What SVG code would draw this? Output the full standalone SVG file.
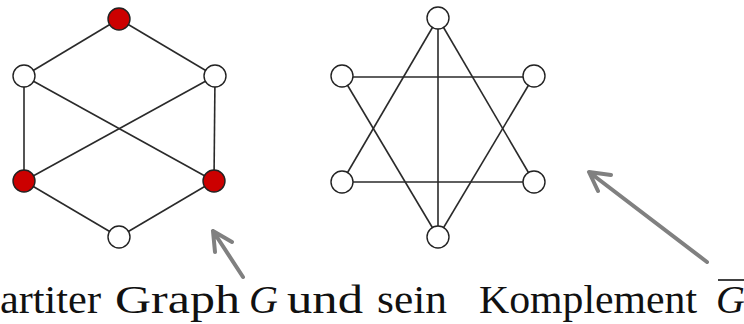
<svg xmlns="http://www.w3.org/2000/svg" width="744" height="324" viewBox="0 0 744 324">
<style>
.e{stroke:#2a2a2a;stroke-width:1.6;fill:none}
.n{stroke:#222;stroke-width:1.4;fill:#fff}
.r{fill:#cc0000}
.a{stroke:#808080;stroke-width:4;fill:none;stroke-linecap:round;stroke-linejoin:round}
.t{font-family:"Liberation Serif","DejaVu Serif",serif;font-size:40px;fill:#111}
.i{font-style:italic}
</style>
<rect width="744" height="324" fill="#fff"/>
<g id="connectors">
<line class="e" x1="119" y1="19" x2="24" y2="76"/>
<line class="e" x1="119" y1="19" x2="215" y2="76"/>
<line class="e" x1="24" y1="76" x2="24" y2="181"/>
<line class="e" x1="215" y1="76" x2="214" y2="181"/>
<line class="e" x1="24" y1="76" x2="214" y2="181"/>
<line class="e" x1="215" y1="76" x2="24" y2="181"/>
<line class="e" x1="24" y1="181" x2="119" y2="237"/>
<line class="e" x1="214" y1="181" x2="119" y2="237"/>
<line class="e" x1="438" y1="18" x2="438" y2="237"/>
<line class="e" x1="438" y1="18" x2="342" y2="182"/>
<line class="e" x1="438" y1="18" x2="534" y2="182"/>
<line class="e" x1="342" y1="77" x2="534" y2="77"/>
<line class="e" x1="342" y1="182" x2="534" y2="182"/>
<line class="e" x1="342" y1="76" x2="438" y2="237"/>
<line class="e" x1="534" y1="76" x2="438" y2="237"/>
<path class="a" d="M243 277 L213 231 M215 252 L213 231 L232 242"/>
<path class="a" d="M707 262 L589 172 M611 175 L589 172 L598 191"/>
</g>
<g id="g1-top"><circle class="n r" cx="119" cy="19" r="11"/></g>
<g id="g1-lu"><circle class="n" cx="24" cy="76" r="11"/></g>
<g id="g1-ru"><circle class="n" cx="215" cy="76" r="11"/></g>
<g id="g1-ll"><circle class="n r" cx="24" cy="181" r="11"/></g>
<g id="g1-rl"><circle class="n r" cx="214" cy="181" r="11"/></g>
<g id="g1-bot"><circle class="n" cx="119" cy="237" r="11"/></g>
<g id="g2-top"><circle class="n" cx="438" cy="18" r="11"/></g>
<g id="g2-lu"><circle class="n" cx="342" cy="76" r="11"/></g>
<g id="g2-ru"><circle class="n" cx="534" cy="76" r="11"/></g>
<g id="g2-ll"><circle class="n" cx="342" cy="182" r="11"/></g>
<g id="g2-rl"><circle class="n" cx="534" cy="182" r="11"/></g>
<g id="g2-bot"><circle class="n" cx="438" cy="237" r="11"/></g>
<g id="caption">
<text class="t" x="0" y="313" textLength="101" lengthAdjust="spacingAndGlyphs">artiter</text>
<text class="t" x="115" y="313" textLength="125" lengthAdjust="spacingAndGlyphs">Graph</text>
<text class="t i" x="249" y="313">G</text>
<text class="t" x="287" y="313" textLength="76" lengthAdjust="spacingAndGlyphs">und</text>
<text class="t" x="377" y="313" textLength="70" lengthAdjust="spacingAndGlyphs">sein</text>
<text class="t" x="479" y="313" textLength="218" lengthAdjust="spacingAndGlyphs">Komplement</text>
<text class="t i" x="716" y="313">G</text>
<line x1="718" y1="280" x2="746" y2="280" stroke="#111" stroke-width="1.6"/>
</g>
</svg>
